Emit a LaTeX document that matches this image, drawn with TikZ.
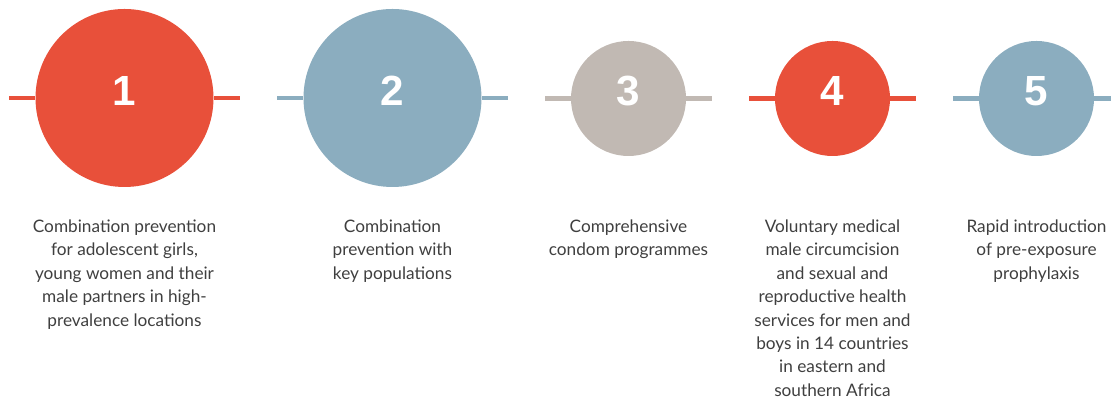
\documentclass[tikz,border=0pt]{standalone}
\usepackage{fontspec}
\setmainfont{Lato}
\newfontfamily\numfont{Liberation Sans}
\usetikzlibrary{positioning}

\definecolor{redc}{HTML}{E8503A}
\definecolor{bluec}{HTML}{8BADBF}
\definecolor{grayc}{HTML}{C1B9B3}
\definecolor{textc}{HTML}{3F3F3F}

\tikzset{
  dot/.style={circle, inner sep=0pt, draw=none},
  bigdot/.style={dot, minimum size=3.56cm},
  smalldot/.style={dot, minimum size=2.30cm},
  num/.style={text=white, inner sep=0pt, font={\numfont\bfseries\fontsize{24}{24}\selectfont}},
  desc/.style={anchor=north, inner sep=0pt, align=center, text=textc,
    font={\fontsize{9.8}{13.3}\selectfont}},
  bar/.style={line width=0.09cm}
}

\begin{document}
\begin{tikzpicture}
                    \useasboundingbox (0,0) rectangle (22.220000,7.980000);
                    \clip (0,0) rectangle (22.220000,7.980000);

                    % Drawing circle 1
                    \node [bigdot, fill=redc] (c1) at (2.490000,6.020000) {};
                    \draw [bar, redc] (c1.west) -- ++(-0.520000,0);%
                    \draw [bar, redc] (c1.east) -- ++(0.520000,0);%
                    \node [num] (n1) at ([yshift=0.140000cm]c1.center) {1};%

                    % Drawing circle 2
                    \node [bigdot, fill=bluec] (c2) at (7.850000,6.020000) {};
                    \draw [bar, bluec] (c2.west) -- ++(-0.520000,0);%
                    \draw [bar, bluec] (c2.east) -- ++(0.520000,0);%
                    \node [num] (n2) at ([yshift=0.140000cm]c2.center) {2};%

                    % Drawing circle 3
                    \node [smalldot, fill=grayc] (c3) at (12.570000,6.010000) {};
                    \draw [bar, grayc] (c3.west) -- ++(-0.520000,0);%
                    \draw [bar, grayc] (c3.east) -- ++(0.520000,0);%
                    \node [num] (n3) at ([yshift=0.140000cm]c3.center) {3};%

                    % Drawing circle 4
                    \node [smalldot, fill=redc] (c4) at (16.650000,6.010000) {};
                    \draw [bar, redc] (c4.west) -- ++(-0.520000,0);%
                    \draw [bar, redc] (c4.east) -- ++(0.520000,0);%
                    \node [num] (n4) at ([yshift=0.140000cm]c4.center) {4};%

                    % Drawing circle 5
                    \node [smalldot, fill=bluec] (c5) at (20.730000,6.010000) {};
                    \draw [bar, bluec] (c5.west) -- ++(-0.520000,0);%
                    \draw [bar, bluec] (c5.east) -- ++(0.520000,0);%
                    \node [num] (n5) at ([yshift=0.140000cm]c5.center) {5};%

                    % Texts below the circles
                    \node [desc] (t1) at (c1 |- 0,3.590000) {Combination prevention\\for adolescent girls,\\young women and their\\male partners in high-\\prevalence locations};%
                    \node [desc] (t2) at (c2 |- 0,3.590000) {Combination\\prevention with\\key populations};%
                    \node [desc] (t3) at (c3 |- 0,3.590000) {Comprehensive\\condom programmes};%
                    \node [desc] (t4) at (c4 |- 0,3.590000) {Voluntary medical\\male circumcision\\and sexual and\\reproductive health\\services for men and\\boys in 14 countries\\in eastern and\\southern Africa};%
                    \node [desc] (t5) at (c5 |- 0,3.590000) {Rapid introduction\\of pre-exposure\\prophylaxis};%
\end{tikzpicture}
\end{document}
